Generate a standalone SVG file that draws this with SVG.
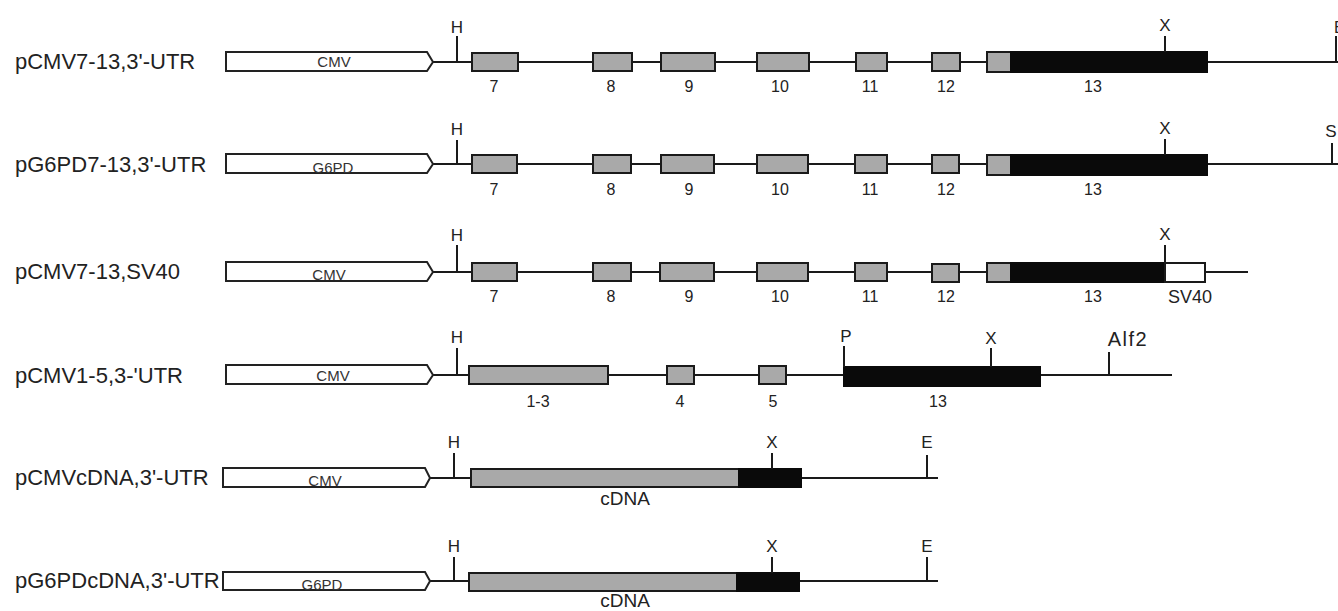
<svg xmlns="http://www.w3.org/2000/svg" width="1338" height="611" viewBox="0 0 1338 611">
<style>
.lbl{font-family:"Liberation Sans",Arial,sans-serif;font-size:22px;fill:#222}
.prom{fill:#fff;stroke:#222;stroke-width:2;stroke-linejoin:miter}
.ptxt{font-family:"Liberation Sans",Arial,sans-serif;font-size:15px;fill:#333;text-anchor:middle}
.ex{fill:#a9a9a9;stroke:#1a1a1a;stroke-width:2}
.blk{fill:#0a0a0a;stroke:#0a0a0a;stroke-width:2}
.wht{fill:#fff;stroke:#1a1a1a;stroke-width:2}
.ln{stroke:#1a1a1a;stroke-width:2;fill:none}
.tk{stroke:#1a1a1a;stroke-width:2;fill:none}
.site{font-family:"Liberation Sans",Arial,sans-serif;font-size:17px;fill:#222;text-anchor:middle}
.num{font-family:"Liberation Sans",Arial,sans-serif;font-size:16px;fill:#222;text-anchor:middle}
.big{font-family:"Liberation Sans",Arial,sans-serif;font-size:19px;fill:#222;text-anchor:middle}
</style>
<rect width="1338" height="611" fill="#fff"/>
<g id="connectors">
<line class="ln" x1="433" y1="62" x2="1338" y2="62"/>
<line class="ln" x1="433" y1="164" x2="1338" y2="164"/>
<line class="ln" x1="433" y1="272" x2="1248" y2="272"/>
<line class="ln" x1="433" y1="375" x2="1172" y2="375"/>
<line class="ln" x1="430" y1="478" x2="938" y2="478"/>
<line class="ln" x1="430" y1="581" x2="938" y2="581"/>
</g>
<g id="row1">
<text class="lbl" x="15" y="69">pCMV7-13,3'-UTR</text>
<polygon class="prom" points="226,52 427,52 433,62 427,71 226,71"/>
<text class="ptxt" x="334" y="67">CMV</text>
<line class="tk" x1="457" y1="36" x2="457" y2="62"/><text class="site" x="457" y="33">H</text>
<rect class="ex" x="472" y="53" width="46" height="18"/>
<rect class="ex" x="593" y="53" width="39" height="18"/>
<rect class="ex" x="661" y="53" width="54" height="18"/>
<rect class="ex" x="757" y="53" width="52" height="18"/>
<rect class="ex" x="856" y="53" width="31" height="18"/>
<rect class="ex" x="932" y="53" width="28" height="18"/>
<rect class="ex" x="987" y="52" width="24" height="20"/>
<rect class="blk" x="1011" y="52" width="196" height="20"/>
<line class="tk" x1="1165" y1="36" x2="1165" y2="52"/><text class="site" x="1165" y="31">X</text>
<line class="tk" x1="1336" y1="36" x2="1336" y2="62"/><text class="site" x="1334" y="33" style="text-anchor:start;font-size:16px">E</text>
<text class="num" x="494" y="92">7</text><text class="num" x="611" y="92">8</text><text class="num" x="689" y="92">9</text>
<text class="num" x="780" y="92">10</text><text class="num" x="870" y="92">11</text><text class="num" x="946" y="92">12</text><text class="num" x="1093" y="92">13</text>
</g>
<g id="row2">
<text class="lbl" x="15" y="172">pG6PD7-13,3'-UTR</text>
<polygon class="prom" points="226,154 427,154 433,164 427,173 226,173"/>
<text class="ptxt" x="333" y="173">G6PD</text>
<line class="tk" x1="457" y1="140" x2="457" y2="164"/><text class="site" x="457" y="135">H</text>
<rect class="ex" x="472" y="155" width="45" height="18"/>
<rect class="ex" x="593" y="155" width="38" height="18"/>
<rect class="ex" x="661" y="155" width="53" height="18"/>
<rect class="ex" x="757" y="155" width="51" height="18"/>
<rect class="ex" x="855" y="155" width="32" height="18"/>
<rect class="ex" x="932" y="155" width="27" height="18"/>
<rect class="ex" x="987" y="155" width="24" height="20"/>
<rect class="blk" x="1011" y="155" width="196" height="20"/>
<line class="tk" x1="1165" y1="139" x2="1165" y2="155"/><text class="site" x="1165" y="134">X</text>
<line class="tk" x1="1332" y1="143" x2="1332" y2="164"/><text class="site" x="1331" y="137">S</text>
<text class="num" x="494" y="195">7</text><text class="num" x="611" y="195">8</text><text class="num" x="689" y="195">9</text>
<text class="num" x="780" y="195">10</text><text class="num" x="870" y="195">11</text><text class="num" x="946" y="195">12</text><text class="num" x="1093" y="195">13</text>
</g>
<g id="row3">
<text class="lbl" x="15" y="279">pCMV7-13,SV40</text>
<polygon class="prom" points="226,262 427,262 433,272 427,281 226,281"/>
<text class="ptxt" x="329" y="280">CMV</text>
<line class="tk" x1="457" y1="245" x2="457" y2="272"/><text class="site" x="457" y="241">H</text>
<rect class="ex" x="472" y="263" width="45" height="18"/>
<rect class="ex" x="593" y="263" width="38" height="18"/>
<rect class="ex" x="660" y="263" width="54" height="18"/>
<rect class="ex" x="757" y="263" width="51" height="18"/>
<rect class="ex" x="855" y="263" width="32" height="18"/>
<rect class="ex" x="932" y="264" width="27" height="18"/>
<rect class="ex" x="987" y="263" width="24" height="19"/>
<rect class="blk" x="1011" y="263" width="154" height="19"/>
<rect class="wht" x="1165" y="263" width="40" height="19"/>
<line class="tk" x1="1165" y1="245" x2="1165" y2="263"/><text class="site" x="1165" y="240">X</text>
<text class="num" x="494" y="302">7</text><text class="num" x="611" y="302">8</text><text class="num" x="689" y="302">9</text>
<text class="num" x="780" y="302">10</text><text class="num" x="870" y="302">11</text><text class="num" x="946" y="302">12</text><text class="num" x="1093" y="302">13</text>
<text class="big" x="1190" y="303" style="font-size:18px">SV40</text>
</g>
<g id="row4">
<text class="lbl" x="15" y="383">pCMV1-5,3-'UTR</text>
<polygon class="prom" points="226,365 427,365 433,375 427,384 226,384"/>
<text class="ptxt" x="333" y="381">CMV</text>
<line class="tk" x1="457" y1="348" x2="457" y2="375"/><text class="site" x="457" y="343">H</text>
<rect class="ex" x="469" y="366" width="139" height="18"/>
<rect class="ex" x="667" y="366" width="27" height="18"/>
<rect class="ex" x="759" y="366" width="27" height="18"/>
<rect class="blk" x="844" y="367" width="196" height="19"/>
<line class="tk" x1="844" y1="346" x2="844" y2="367"/><text class="site" x="846" y="342">P</text>
<line class="tk" x1="991" y1="348" x2="991" y2="367"/><text class="site" x="991" y="344">X</text>
<line class="tk" x1="1109" y1="352" x2="1109" y2="375"/><text class="big" x="1128" y="346" style="font-size:20px;letter-spacing:1.5px">Alf2</text>
<text class="num" x="538" y="407">1-3</text><text class="num" x="680" y="407">4</text><text class="num" x="773" y="407">5</text><text class="num" x="938" y="407">13</text>
</g>
<g id="row5">
<text class="lbl" x="15" y="485">pCMVcDNA,3'-UTR</text>
<polygon class="prom" points="223,468 425,468 430,478 425,487 223,487"/>
<text class="ptxt" x="325" y="486">CMV</text>
<line class="tk" x1="454" y1="453" x2="454" y2="478"/><text class="site" x="454" y="448">H</text>
<rect class="ex" x="471" y="469" width="268" height="18"/>
<rect class="blk" x="739" y="469" width="62" height="18"/>
<line class="tk" x1="772" y1="453" x2="772" y2="469"/><text class="site" x="772" y="448">X</text>
<line class="tk" x1="927" y1="455" x2="927" y2="478"/><text class="site" x="927" y="448">E</text>
<text class="big" x="625" y="505">cDNA</text>
</g>
<g id="row6">
<text class="lbl" x="15" y="588">pG6PDcDNA,3'-UTR</text>
<polygon class="prom" points="223,572 425,572 430,581 425,590 223,590"/>
<text class="ptxt" x="322" y="590">G6PD</text>
<line class="tk" x1="454" y1="557" x2="454" y2="581"/><text class="site" x="454" y="552">H</text>
<rect class="ex" x="469" y="573" width="268" height="18"/>
<rect class="blk" x="737" y="573" width="62" height="18"/>
<line class="tk" x1="772" y1="557" x2="772" y2="573"/><text class="site" x="772" y="552">X</text>
<line class="tk" x1="927" y1="557" x2="927" y2="581"/><text class="site" x="927" y="552">E</text>
<text class="big" x="625" y="607">cDNA</text>
</g>
</svg>
